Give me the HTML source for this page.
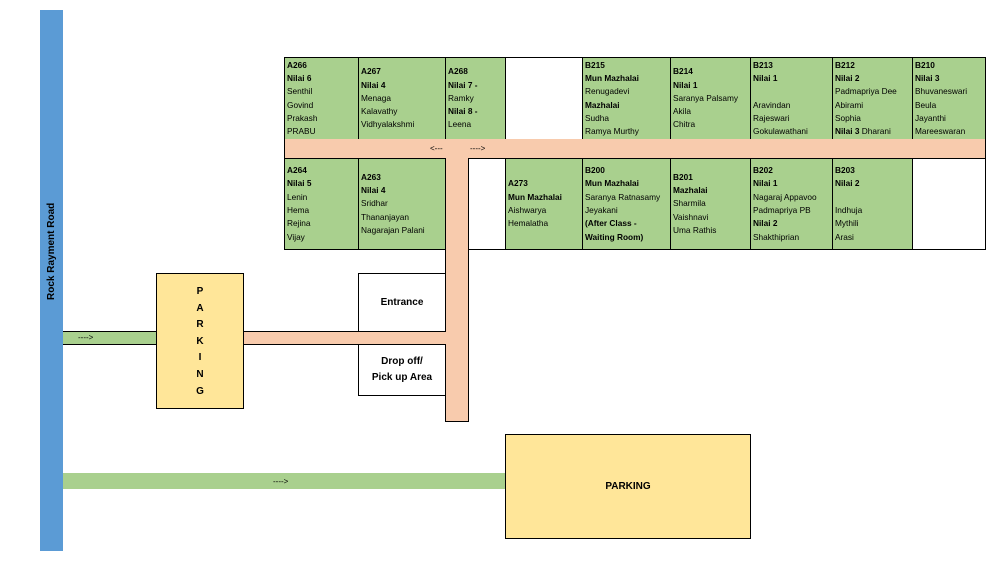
<!DOCTYPE html>
<html><head><meta charset="utf-8"><style>
*{margin:0;padding:0;box-sizing:border-box}
body{width:994px;height:563px;background:#fff;position:relative;overflow:hidden;font-family:"Liberation Sans",sans-serif;color:#000}
.a{position:absolute}
.c{position:absolute;background:#a9d08e;border:1px solid #000;font-size:8.3px;line-height:13.3px;padding-left:2px;display:flex;flex-direction:column;justify-content:center;white-space:nowrap;overflow:hidden}
.w{background:#fff}
b{font-weight:bold}
.road{background:#f8cbad}
.arrow{font-size:8px;position:absolute}
</style></head><body>
<div class="a" style="left:40px;top:10px;width:23px;height:541px;background:#5b9bd5"></div>
<div class="a" style="left:44px;top:300px;width:16px;height:0;"><div style="position:absolute;transform:rotate(-90deg);transform-origin:left top;left:2px;top:0;white-space:nowrap;font-weight:bold;font-size:10px;width:120px;text-align:left">Rock Rayment Road</div></div>

<!-- top row -->
<div class="c" style="left:284px;top:57px;width:75px;height:83px"><b>A266</b><b>Nilai 6</b>Senthil<br>Govind<br>Prakash<br>PRABU</div>
<div class="c" style="left:358px;top:57px;width:88px;height:83px"><b>A267</b><b>Nilai 4</b><span>Menaga</span><span>Kalavathy</span><span>Vidhyalakshmi</span></div>
<div class="c" style="left:445px;top:57px;width:61px;height:83px"><b>A268</b><b>Nilai 7 -</b><span>Ramky</span><b>Nilai 8 -</b><span>Leena</span></div>
<div class="c w" style="left:505px;top:57px;width:78px;height:83px"></div>
<div class="c" style="left:582px;top:57px;width:89px;height:83px"><b>B215</b><b>Mun Mazhalai</b><span>Renugadevi</span><b>Mazhalai</b><span>Sudha</span><span>Ramya Murthy</span></div>
<div class="c" style="left:670px;top:57px;width:81px;height:83px"><b>B214</b><b>Nilai 1</b><span>Saranya Palsamy</span><span>Akila</span><span>Chitra</span></div>
<div class="c" style="left:750px;top:57px;width:83px;height:83px"><b>B213</b><b>Nilai 1</b><span>&nbsp;</span><span>Aravindan</span><span>Rajeswari</span><span>Gokulawathani</span></div>
<div class="c" style="left:832px;top:57px;width:81px;height:83px"><b>B212</b><b>Nilai 2</b><span>Padmapriya Dee</span><span>Abirami</span><span>Sophia</span><span><b>Nilai 3</b> Dharani</span></div>
<div class="c" style="left:912px;top:57px;width:74px;height:83px"><b>B210</b><b>Nilai 3</b><span>Bhuvaneswari</span><span>Beula</span><span>Jayanthi</span><span>Mareeswaran</span></div>

<!-- road band -->
<div class="a road" style="left:284px;top:139px;width:702px;height:20px;border-left:1px solid #000;border-right:1px solid #000"></div>
<div class="arrow" style="left:430px;top:144px">&lt;---</div>
<div class="arrow" style="left:470px;top:144px">----&gt;</div>

<!-- bottom row -->
<div class="c" style="left:284px;top:158px;width:75px;height:92px"><b>A264</b><b>Nilai 5</b><span>Lenin</span><span>Hema</span><span>Rejina</span><span>Vijay</span></div>
<div class="c" style="left:358px;top:158px;width:88px;height:92px"><b>A263</b><b>Nilai 4</b><span>Sridhar</span><span>Thananjayan</span><span>Nagarajan Palani</span></div>
<div class="a road" style="left:445px;top:158px;width:24px;height:264px;border-left:1px solid #000;border-right:1px solid #000;border-bottom:1px solid #000"></div>
<div class="c w" style="left:468px;top:158px;width:38px;height:92px"></div>
<div class="c" style="left:505px;top:158px;width:78px;height:92px"><b>A273</b><b>Mun Mazhalai</b><span>Aishwarya</span><span>Hemalatha</span></div>
<div class="c" style="left:582px;top:158px;width:89px;height:92px"><b>B200</b><b>Mun Mazhalai</b><span>Saranya Ratnasamy</span><span>Jeyakani</span><b>(After Class -</b><b>Waiting Room)</b></div>
<div class="c" style="left:670px;top:158px;width:81px;height:92px"><b>B201</b><b>Mazhalai</b><span>Sharmila</span><span>Vaishnavi</span><span>Uma Rathis</span></div>
<div class="c" style="left:750px;top:158px;width:83px;height:92px"><b>B202</b><b>Nilai 1</b><span>Nagaraj Appavoo</span><span>Padmapriya PB</span><b>Nilai 2</b><span>Shakthiprian</span></div>
<div class="c" style="left:832px;top:158px;width:81px;height:92px"><b>B203</b><b>Nilai 2</b><span>&nbsp;</span><span>Indhuja</span><span>Mythili</span><span>Arasi</span></div>
<div class="c w" style="left:912px;top:158px;width:74px;height:92px"></div>

<!-- entrance / drop off -->
<div class="a" style="left:358px;top:273px;width:88px;height:59px;border:1px solid #000;display:flex;align-items:center;justify-content:center;font-weight:bold;font-size:10px">Entrance</div>
<div class="a road" style="left:243px;top:331px;width:203px;height:14px;border-top:1px solid #000;border-bottom:1px solid #000"></div>
<div class="a" style="left:358px;top:344px;width:88px;height:52px;border:1px solid #000;border-top:none;display:flex;align-items:center;justify-content:center;text-align:center;font-weight:bold;font-size:10px;line-height:16px">Drop off/<br>Pick up Area</div>

<!-- left strip + parking -->
<div class="a" style="left:63px;top:331px;width:94px;height:14px;background:#a9d08e;border-top:1px solid #000;border-bottom:1px solid #000"></div>
<div class="arrow" style="left:78px;top:333px">----&gt;</div>
<div class="a" style="left:156px;top:273px;width:88px;height:136px;background:#ffe699;border:1px solid #000;text-align:center;font-weight:bold;font-size:10px;line-height:16.6px;padding-top:10px">P<br>A<br>R<br>K<br>I<br>N<br>G</div>

<!-- bottom road + parking -->
<div class="a" style="left:63px;top:473px;width:442px;height:16px;background:#a9d08e"></div>
<div class="arrow" style="left:273px;top:477px">----&gt;</div>
<div class="a" style="left:505px;top:434px;width:246px;height:105px;background:#ffe699;border:1px solid #000;display:flex;align-items:center;justify-content:center;font-weight:bold;font-size:10px">PARKING</div>
</body></html>
